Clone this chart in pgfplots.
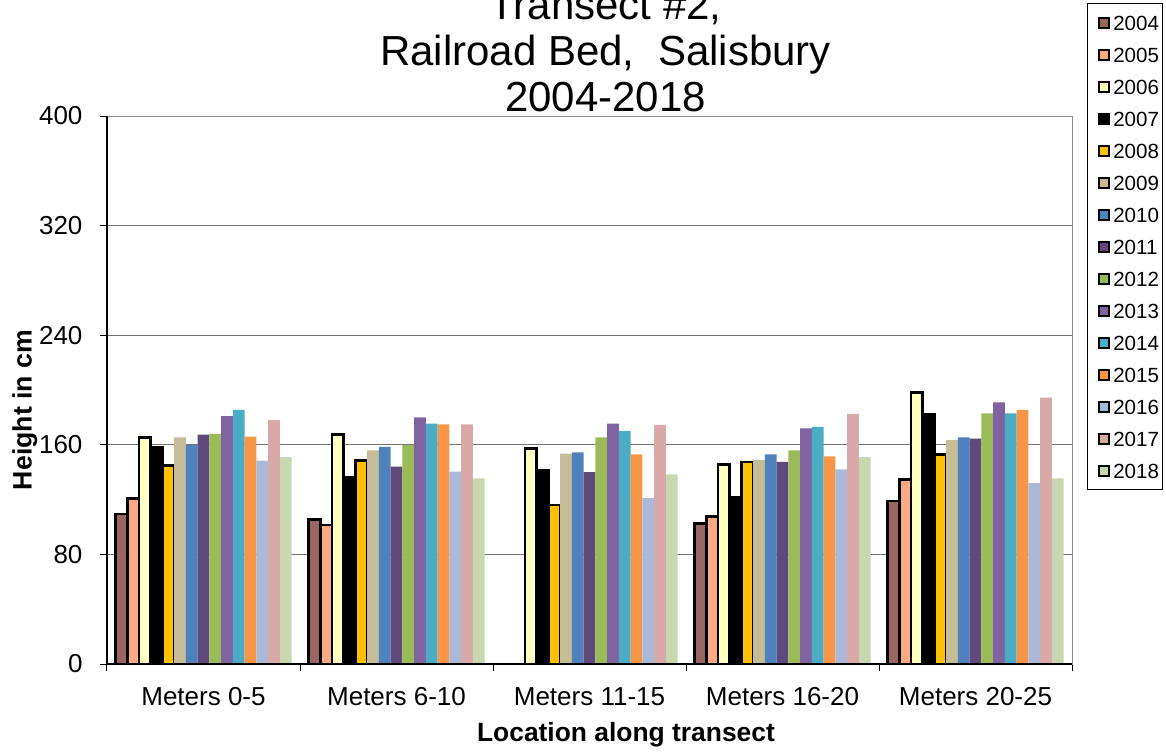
\documentclass[border=0pt]{standalone}
\usepackage{fontspec}
\setmainfont{Liberation Sans}
\usepackage{pgfplots}
\pgfplotsset{compat=1.18}
\definecolor{c04}{RGB}{153,102,99}
\definecolor{c05}{RGB}{251,170,132}
\definecolor{c06}{RGB}{255,255,192}
\definecolor{c07}{RGB}{0,0,0}
\definecolor{c08}{RGB}{255,192,0}
\definecolor{c09}{RGB}{196,189,151}
\definecolor{c10}{RGB}{79,129,189}
\definecolor{c11}{RGB}{96,74,123}
\definecolor{c12}{RGB}{155,187,89}
\definecolor{c13}{RGB}{128,100,162}
\definecolor{c14}{RGB}{75,172,198}
\definecolor{c15}{RGB}{247,150,70}
\definecolor{c16}{RGB}{170,185,215}
\definecolor{c17}{RGB}{217,169,169}
\definecolor{c18}{RGB}{200,215,175}
\pgfplotsset{
  sq/.style={legend image code/.code={\path (0pt,0pt); \draw[##1, line width=1.2pt] (4.7pt,-4.25pt) rectangle (12.2pt,3.25pt);}},
  ob/.style={ybar, bar width=0.0608, bar shift=#1, draw=black, line width=2.1pt, sq},
  nb/.style={ybar, bar width=0.0608, bar shift=#1, draw=none, sq},
}
\begin{document}
\begin{tikzpicture}
\begin{axis}[
  scale only axis, width=723.75pt, height=411pt,
  xmin=-0.5, xmax=4.5, ymin=0, ymax=400,
  ytick={0,80,...,400},
  xtick={0,1,2,3,4},
  xticklabels={Meters 0-5, Meters 6-10, Meters 11-15, Meters 16-20, Meters 20-25},
  minor xtick={-0.5,0.5,1.5,2.5,3.5,4.5},
  tick pos=left,
  tick align=outside,
  major tick length=5.25pt, minor tick length=5.25pt,
  tick style={black, line width=0.75pt},
  major x tick style={draw=none},
  ymajorgrids,
  major grid style={draw=black!55, line width=0.75pt},
  axis line style={draw=black!45, line width=0.75pt},
  tick label style={font=\fontsize{19.5}{22}\selectfont},
  /pgf/number format/assume math mode=true,
  xticklabel style={anchor=base, inner sep=0pt, yshift=-25.5pt},
  yticklabel style={anchor=east, inner sep=0pt, xshift=-12.95pt},
  xlabel={\bfseries Location along transect},
  xlabel style={at={(axis description cs:0.5378,-0.1418)}, anchor=base, font=\fontsize{19.8}{22}\selectfont},
  ylabel={\bfseries Height in cm},
  ylabel style={at={(axis description cs:-0.0781,0.4635)}, anchor=base, font=\fontsize{20}{22}\selectfont},
  legend style={at={(axis description cs:1.01554,1.2062)}, anchor=north west, draw=black, line width=0.75pt, fill=white,
    inner xsep=3pt, inner ysep=8.25pt, row sep=12pt, column sep=2.5pt,
    font=\fontsize{15.4}{18}\selectfont, cells={anchor=west},
    nodes={inner sep=0pt, text height=12pt, text depth=0pt}},
  after end axis/.code={\draw[black, line width=0.9pt] (rel axis cs:0,1) -- (rel axis cs:0,0) -- (rel axis cs:1,0);},
]
\addplot[ob=-0.4256, fill=c04] coordinates {(0,109.5) (1,105.5) (3,102.5) (4,119)};
\addplot[ob=-0.3648, fill=c05] coordinates {(0,121) (1,101.5) (3,107.5) (4,134.5)};
\addplot[ob=-0.3040, fill=c06] coordinates {(0,165.5) (1,167.5) (2,157.5) (3,145.5) (4,198)};
\addplot[ob=-0.2432, fill=c07] coordinates {(0,158) (1,136.5) (2,141.5) (3,121.5) (4,182.5)};
\addplot[ob=-0.1824, fill=c08] coordinates {(0,145) (1,148.5) (2,116) (3,147.5) (4,153)};
\addplot[nb=-0.1216, fill=c09] coordinates {(0,165.5) (1,156) (2,153.5) (3,149) (4,163.5)};
\addplot[nb=-0.0608, fill=c10] coordinates {(0,160) (1,158.5) (2,154.5) (3,153) (4,165.5)};
\addplot[nb=0, fill=c11] coordinates {(0,167.5) (1,144) (2,140) (3,147.5) (4,164.5)};
\addplot[nb=0.0608, fill=c12] coordinates {(0,168) (1,160) (2,165.5) (3,156) (4,183)};
\addplot[nb=0.1216, fill=c13] coordinates {(0,181) (1,180) (2,175.5) (3,172) (4,191)};
\addplot[nb=0.1824, fill=c14] coordinates {(0,185.5) (1,175.5) (2,170) (3,173) (4,183)};
\addplot[nb=0.2432, fill=c15] coordinates {(0,166) (1,175) (2,153) (3,151.5) (4,185.5)};
\addplot[nb=0.3040, fill=c16] coordinates {(0,148.5) (1,140.5) (2,121) (3,142) (4,132)};
\addplot[nb=0.3648, fill=c17] coordinates {(0,178) (1,175) (2,174.5) (3,182.5) (4,194.5)};
\addplot[nb=0.4256, fill=c18] coordinates {(0,151) (1,135.5) (2,138.5) (3,151) (4,135.5)};
\legend{2004,2005,2006,2007,2008,2009,2010,2011,2012,2013,2014,2015,2016,2017,2018}
\end{axis}
\node[anchor=base, font=\fontsize{31.5}{36}\selectfont] at (373.9pt,483pt) {Transect \#2,};
\node[anchor=base, font=\fontsize{31.5}{36}\selectfont] at (373.9pt,448.5pt) {Railroad Bed,\ \ Salisbury};
\node[anchor=base, font=\fontsize{31.5}{36}\selectfont] at (373.9pt,414pt) {2004-2018};
\pgfresetboundingbox
\useasboundingbox (-80.25pt,-65.25pt) rectangle (794.25pt,498pt);
\end{tikzpicture}
\end{document}
